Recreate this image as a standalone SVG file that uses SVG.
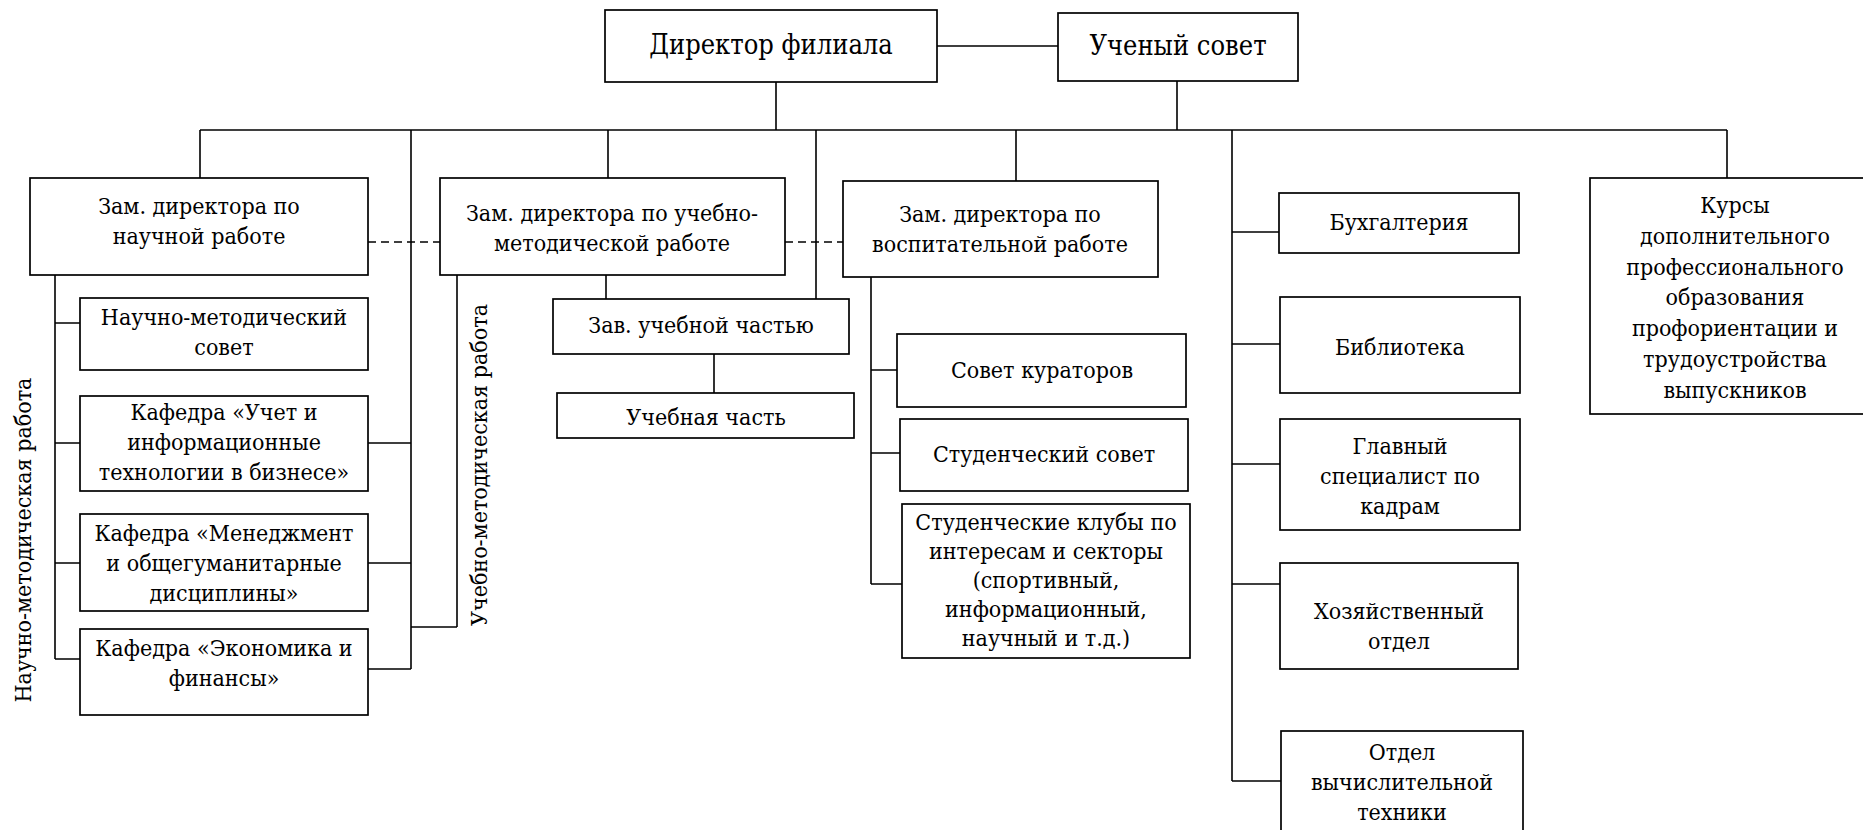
<svg xmlns="http://www.w3.org/2000/svg" width="1863" height="830" viewBox="0 0 1863 830">
<style>
rect.b{fill:#fff;stroke:#000;stroke-width:1.7}
text{font-family:'DejaVu Serif Condensed','DejaVu Serif',serif;font-stretch:condensed;font-size:23px;fill:#000;text-anchor:middle}
text.big{font-size:27px}
#connectors path{fill:none;stroke:#000;stroke-width:1.6}
#connectors path.d{stroke-dasharray:8 5}
</style>
<rect width="1863" height="830" fill="#fff"/>
<g id="connectors">
<path d="M776 82V130M937 46H1058M1177 81V130M200 130H1727"/>
<path d="M200 130V178M411 130V669M608 130V178M816 130V299M1016 130V181M1232 130V781M1727 130V178"/>
<path class="d" d="M368 242H440M785 242H843"/>
<path d="M55 274V659M55 323H80M55 443H80M55 563H80M55 659H80"/>
<path d="M368 443H411M368 563H411M368 669H411M411 627H457M457 275V627"/>
<path d="M606 275V299M714 354V393"/>
<path d="M871 277V584M871 370H897M871 453H900M871 584H902"/>
<path d="M1232 232H1279M1232 344H1280M1232 464H1280M1232 584H1280M1232 781H1281"/>
</g>
<g id="director"><rect class="b" x="605" y="10" width="332" height="72"/><text class="big" x="771" y="54">Директор филиала</text></g>
<g id="council"><rect class="b" x="1058" y="13" width="240" height="68"/><text class="big" x="1178" y="55">Ученый совет</text></g>
<g id="dep-science"><rect class="b" x="30" y="178" width="338" height="97"/><text x="199" y="214">Зам. директора по</text><text x="199" y="244">научной работе</text></g>
<g id="dep-edu"><rect class="b" x="440" y="178" width="345" height="97"/><text x="612" y="221">Зам. директора по учебно-</text><text x="612" y="251">методической работе</text></g>
<g id="dep-upbring"><rect class="b" x="843" y="181" width="315" height="96"/><text x="1000" y="222">Зам. директора по</text><text x="1000" y="252">воспитательной работе</text></g>
<g id="accounting"><rect class="b" x="1279" y="193" width="240" height="60"/><text x="1399" y="230">Бухгалтерия</text></g>
<g id="library"><rect class="b" x="1280" y="297" width="240" height="96"/><text x="1400" y="355">Библиотека</text></g>
<g id="hr"><rect class="b" x="1280" y="419" width="240" height="111"/><text x="1400" y="454">Главный</text><text x="1400" y="484">специалист по</text><text x="1400" y="514">кадрам</text></g>
<g id="household"><rect class="b" x="1280" y="563" width="238" height="106"/><text x="1399" y="619">Хозяйственный</text><text x="1399" y="649">отдел</text></g>
<g id="computing"><rect class="b" x="1281" y="731" width="242" height="102"/><text x="1402" y="760">Отдел</text><text x="1402" y="790">вычислительной</text><text x="1402" y="820">техники</text></g>
<g id="courses"><rect class="b" x="1590" y="178" width="280" height="236"/><text x="1735" y="213">Курсы</text><text x="1735" y="244">дополнительного</text><text x="1735" y="275">профессионального</text><text x="1735" y="305">образования</text><text x="1735" y="336">профориентации и</text><text x="1735" y="367">трудоустройства</text><text x="1735" y="398">выпускников</text></g>
<g id="sci-method-council"><rect class="b" x="80" y="298" width="288" height="72"/><text x="224" y="325">Научно-методический</text><text x="224" y="355">совет</text></g>
<g id="chair-accounting"><rect class="b" x="80" y="396" width="288" height="95"/><text x="224" y="420">Кафедра «Учет и</text><text x="224" y="450">информационные</text><text x="224" y="480">технологии в бизнесе»</text></g>
<g id="chair-management"><rect class="b" x="80" y="514" width="288" height="97"/><text x="224" y="541">Кафедра «Менеджмент</text><text x="224" y="571">и общегуманитарные</text><text x="224" y="601">дисциплины»</text></g>
<g id="chair-economics"><rect class="b" x="80" y="629" width="288" height="86"/><text x="224" y="656">Кафедра «Экономика и</text><text x="224" y="686">финансы»</text></g>
<g id="study-head"><rect class="b" x="553" y="299" width="296" height="55"/><text x="701" y="333">Зав. учебной частью</text></g>
<g id="study-office"><rect class="b" x="557" y="393" width="297" height="45"/><text x="706" y="425">Учебная часть</text></g>
<g id="curators"><rect class="b" x="897" y="334" width="289" height="73"/><text x="1042" y="378">Совет кураторов</text></g>
<g id="student-council"><rect class="b" x="900" y="419" width="288" height="72"/><text x="1044" y="462">Студенческий совет</text></g>
<g id="clubs"><rect class="b" x="902" y="504" width="288" height="154"/><text x="1046" y="530">Студенческие клубы по</text><text x="1046" y="559">интересам и секторы</text><text x="1046" y="588">(спортивный,</text><text x="1046" y="617">информационный,</text><text x="1046" y="646">научный и т.д.)</text></g>
<g id="label-science"><text transform="translate(31,540) rotate(-90)">Научно-методическая работа</text></g>
<g id="label-edu"><text transform="translate(487,465) rotate(-90)">Учебно-методическая работа</text></g>
</svg>
